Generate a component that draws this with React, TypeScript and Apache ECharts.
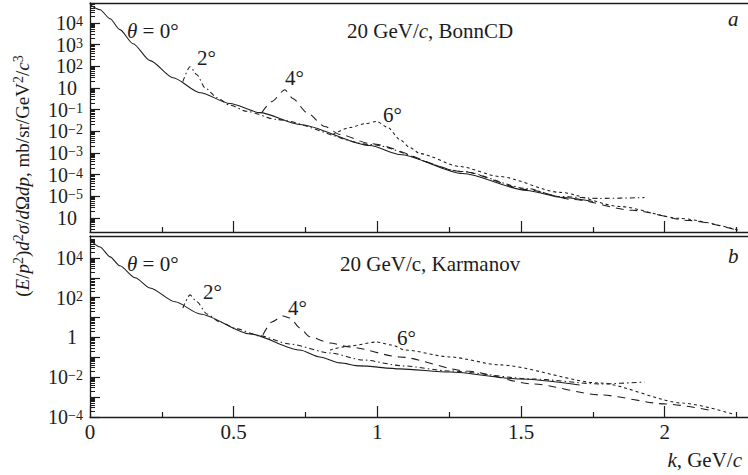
import React, { useEffect, useRef } from 'react';
import * as echarts from 'echarts';

const FONT = "'Liberation Serif', 'DejaVu Serif', serif";
const INK = '#1c1c1c';

// ---------- axes ----------
const K_MAX = 2.29;
const xMajorTicks = [0, 0.5, 1, 1.5, 2];
const xMinorTicks = [0.25, 0.75, 1.25, 1.75, 2.25];
const xLabels = ['0', '0.5', '1', '1.5', '2'];

// y axes are log10 of the cross section
const topRange = [-5.65, 4.92];
const botRange = [-4, 5.1];

const topMajor = [4, 3, 2, 1, 0, -1, -2, -3, -4, -5];
const topLabelBase = ['10', '10', '10', '10', '10', '10', '10', '10', '10', '10'];
const topLabelSup = ['4', '3', '2', '', '−1', '−2', '−3', '−4', '−5', ''];

const botMajor = [4, 3, 2, 1, 0, -1, -2, -3, -4];
const botLabelVals = [4, 2, 0, -2, -4];
const botLabelBase = ['10', '10', '1', '10', '10'];
const botLabelSup = ['4', '2', '', '−2', '−4'];

// ---------- panel a : 20 GeV/c, BonnCD (log10 values) ----------
const aK0 = [0, 0.035, 0.07, 0.104, 0.15, 0.209, 0.289, 0.383, 0.487, 0.591, 0.73, 0.974, 1.078, 1.297, 1.52, 1.645, 1.75];
const aV0 = [4.84, 4.61, 4.19, 3.69, 3.04, 2.26, 1.47, 0.78, 0.28, -0.14, -0.69, -1.66, -2.07, -2.95, -3.73, -4.06, -4.24];

const aK2 = [0.323, 0.348, 0.372, 0.4, 0.442, 0.487, 0.546, 0.65, 0.974, 1.297, 1.52, 1.635, 1.774, 1.93];
const aV2 = [1.29, 1.98, 1.61, 1.01, 0.55, 0.2, -0.08, -0.46, -1.61, -2.86, -3.64, -4.01, -4.1, -4.06];

const aK4 = [0.598, 0.633, 0.678, 0.706, 0.755, 0.817, 0.87, 0.974, 1.297, 1.52, 1.68, 1.889, 2.087, 2.243];
const aV4 = [-0.14, 0.37, 0.92, 0.51, -0.14, -0.78, -1.15, -1.57, -2.86, -3.69, -4.15, -4.65, -5.12, -5.53];

const aK6 = [0.845, 0.904, 0.957, 0.998, 1.037, 1.078, 1.113, 1.148, 1.287, 1.426, 1.635, 1.843, 2.052, 2.261];
const aV6 = [-1.15, -0.83, -0.65, -0.55, -0.83, -1.38, -1.75, -2.03, -2.63, -3.09, -3.82, -4.47, -5.02, -5.58];

// ---------- panel b : 20 GeV/c, Karmanov (log10 values) ----------
const bK0 = [0, 0.035, 0.07, 0.104, 0.157, 0.209, 0.296, 0.383, 0.557, 0.73, 0.8, 0.87, 0.939, 1.078, 1.252, 1.496, 1.704];
const bV0 = [4.91, 4.55, 4.05, 3.6, 3.0, 2.49, 1.79, 1.18, 0.18, -0.63, -0.98, -1.28, -1.43, -1.58, -1.74, -2.09, -2.39];

const bK2 = [0.323, 0.348, 0.372, 0.407, 0.452, 0.511, 0.591, 0.696, 0.835, 0.95, 1.089, 1.252, 1.541, 1.774, 1.93];
const bV2 = [1.48, 2.14, 1.79, 1.18, 0.78, 0.43, 0.08, -0.33, -0.78, -1.13, -1.43, -1.69, -2.09, -2.34, -2.24];

const bK4 = [0.602, 0.633, 0.671, 0.696, 0.73, 0.765, 0.835, 0.904, 1.078, 1.311, 1.541, 1.774, 2.007, 2.174];
const bV4 = [0.13, 0.78, 1.08, 0.98, 0.48, 0.03, -0.28, -0.48, -0.98, -1.69, -2.34, -2.89, -3.35, -3.7];

const bK6 = [0.835, 0.904, 0.998, 1.05, 1.096, 1.252, 1.426, 1.774, 2.063, 2.237];
const bV6 = [-0.63, -0.43, -0.23, -0.38, -0.63, -0.98, -1.38, -2.29, -3.3, -3.85];

function zip(k: number[], v: number[]) {
  return k.map((x, i) => [x, v[i]]);
}

function logMinor(lo: number, hi: number) {
  const out: number[] = [];
  for (let n = Math.floor(lo); n <= Math.ceil(hi); n++) {
    for (let m = 2; m <= 9; m++) {
      const v = n + Math.log10(m);
      if (v > lo && v < hi) out.push(v);
    }
  }
  return out;
}

const labelRich = {
  b: { fontFamily: FONT, fontSize: 20, color: INK, lineHeight: 17 },
  s: { fontFamily: FONT, fontSize: 14, color: INK, lineHeight: 11, verticalAlign: 'top' },
  p: { width: 6 },
};

function supLabel(base: string, sup: string) {
  return sup ? `{b|${base}}{s|${sup}}` : `{b|${base}}{p| }`;
}

const textRich = {
  n: { fontFamily: FONT, fontSize: 21, color: INK, lineHeight: 24 },
  i: { fontFamily: FONT, fontSize: 21, color: INK, fontStyle: 'italic', lineHeight: 24 },
  s: { fontFamily: FONT, fontSize: 15, color: INK, lineHeight: 16, verticalAlign: 'top' },
};

const titleRich = {
  n: { fontFamily: FONT, fontSize: 19, color: INK, lineHeight: 22 },
  i: { fontFamily: FONT, fontSize: 19, color: INK, fontStyle: 'italic', lineHeight: 22 },
  s: { fontFamily: FONT, fontSize: 14, color: INK, lineHeight: 14, verticalAlign: 'top' },
};

function txt(x: number, y: number, text: string, align = 'left') {
  return {
    type: 'text',
    x,
    y,
    style: { text, rich: textRich, align, verticalAlign: 'middle', fill: INK, font: `21px ${FONT}` },
  };
}

function lineSeries(name: string, data: number[][], dash: any, xi: number, yi: number) {
  return {
    name,
    type: 'line',
    xAxisIndex: xi,
    yAxisIndex: yi,
    data,
    showSymbol: false,
    symbol: 'none',
    smooth: 0.25,
    smoothMonotone: 'x',
    lineStyle: { color: INK, width: 1.05, type: dash },
  };
}

export default function App() {
  const ref = useRef<HTMLDivElement>(null);

  useEffect(() => {
    if (!ref.current) return;
    const chart = echarts.init(ref.current, null, { renderer: 'svg' });

    const xBase = (grid: number, labels: boolean) => [
      {
        gridIndex: grid,
        type: 'value',
        position: 'bottom',
        min: 0,
        max: K_MAX,
        axisLine: { show: true, onZero: false, lineStyle: { color: INK, width: 1.3 } },
        axisTick: { show: true, inside: true, length: 11, customValues: xMajorTicks, lineStyle: { color: INK, width: 1.2 } },
        axisLabel: {
          show: labels,
          customValues: xMajorTicks,
          margin: 4,
          fontFamily: FONT,
          fontSize: 21,
          color: INK,
          formatter: (v: number) => {
            const i = xMajorTicks.findIndex((t) => Math.abs(t - v) < 1e-6);
            return i >= 0 ? xLabels[i] : '';
          },
        },
        splitLine: { show: false },
      },
      {
        gridIndex: grid,
        type: 'value',
        position: 'bottom',
        min: 0,
        max: K_MAX,
        axisLine: { show: false, onZero: false },
        axisTick: { show: true, inside: true, length: 5, customValues: xMinorTicks, lineStyle: { color: INK, width: 1.2 } },
        axisLabel: { show: false },
        splitLine: { show: false },
      },
      {
        gridIndex: grid,
        type: 'value',
        position: 'top',
        min: 0,
        max: K_MAX,
        axisLine: { show: true, onZero: false, lineStyle: { color: INK, width: 1.3 } },
        axisTick: { show: false },
        axisLabel: { show: false },
        splitLine: { show: false },
      },
    ];

    const yBase = (grid: number, range: number[], major: number[], labelVals: number[], fmt: (v: number) => string) => [
      {
        gridIndex: grid,
        type: 'value',
        position: 'left',
        min: range[0],
        max: range[1],
        axisLine: { show: true, onZero: false, lineStyle: { color: INK, width: 1.3 } },
        axisTick: { show: true, inside: true, length: 10, customValues: major, lineStyle: { color: INK, width: 1.2 } },
        axisLabel: { show: true, customValues: labelVals, margin: 7, rich: labelRich, formatter: fmt },
        splitLine: { show: false },
      },
      {
        gridIndex: grid,
        type: 'value',
        position: 'left',
        min: range[0],
        max: range[1],
        axisLine: { show: false, onZero: false },
        axisTick: { show: true, inside: true, length: 5, customValues: logMinor(range[0], range[1]), lineStyle: { color: INK, width: 1 } },
        axisLabel: { show: false },
        splitLine: { show: false },
      },
    ];

    const topFmt = (v: number) => {
      const i = topMajor.findIndex((t) => Math.abs(t - v) < 1e-6);
      return i >= 0 ? supLabel(topLabelBase[i], topLabelSup[i]) : '';
    };
    const botFmt = (v: number) => {
      const i = botLabelVals.findIndex((t) => Math.abs(t - v) < 1e-6);
      return i >= 0 ? supLabel(botLabelBase[i], botLabelSup[i]) : '';
    };

    const dashDot = [5, 3, 1.5, 3];
    const longDash = [8, 6];
    const shortDash = [3, 3];

    chart.setOption({
      animation: false,
      backgroundColor: '#ffffff',
      grid: [
        { left: 90, right: 0, top: 3, height: 229 },
        { left: 90, right: 0, top: 236, height: 181 },
      ],
      xAxis: [...xBase(0, false), ...xBase(1, true)],
      yAxis: [
        ...yBase(0, topRange, topMajor, topMajor, topFmt),
        ...yBase(1, botRange, botMajor, botLabelVals, botFmt),
      ],
      series: [
        lineSeries('a 0°', zip(aK0, aV0), 'solid', 0, 0),
        lineSeries('a 2°', zip(aK2, aV2), dashDot, 0, 0),
        lineSeries('a 4°', zip(aK4, aV4), longDash, 0, 0),
        lineSeries('a 6°', zip(aK6, aV6), shortDash, 0, 0),
        lineSeries('b 0°', zip(bK0, bV0), 'solid', 3, 2),
        lineSeries('b 2°', zip(bK2, bV2), dashDot, 3, 2),
        lineSeries('b 4°', zip(bK4, bV4), longDash, 3, 2),
        lineSeries('b 6°', zip(bK6, bV6), shortDash, 3, 2),
      ],
      graphic: [
        {
          type: 'text',
          x: 22,
          y: 176,
          rotation: Math.PI / 2,
          style: {
            text: '{n|(}{i|E}{n|/}{i|p}{s|2}{n|)}{i|d}{s|2}{i|σ}{n|/}{i|d}{n|Ω}{i|dp}{n|, mb/sr/GeV}{s|2}{n|/}{i|c}{s|3}',
            rich: titleRich,
            align: 'center',
            verticalAlign: 'middle',
            fill: INK,
            font: `19px ${FONT}`,
          },
        },
        txt(127, 31, '{i|θ}{n| = 0°}'),
        txt(347, 31, '{n|20 GeV/}{i|c}{n|, BonnCD}'),
        txt(728, 19, '{i|a}'),
        txt(197, 58, '{n|2°}'),
        txt(285, 78, '{n|4°}'),
        txt(383, 115, '{n|6°}'),
        txt(127, 264, '{i|θ}{n| = 0°}'),
        txt(340, 264, '{n|20 GeV/c, Karmanov}'),
        txt(728, 256, '{i|b}'),
        txt(203, 292, '{n|2°}'),
        txt(288, 308, '{n|4°}'),
        txt(397, 338, '{n|6°}'),
        txt(742, 460, '{i|k}{n|, GeV/}{i|c}', 'right'),
      ],
    });

    return () => chart.dispose();
  }, []);

  return (
    <div
      ref={ref}
      style={{ position: 'fixed', left: 0, top: 0, width: 748, height: 475, background: '#fff' }}
    />
  );
}
